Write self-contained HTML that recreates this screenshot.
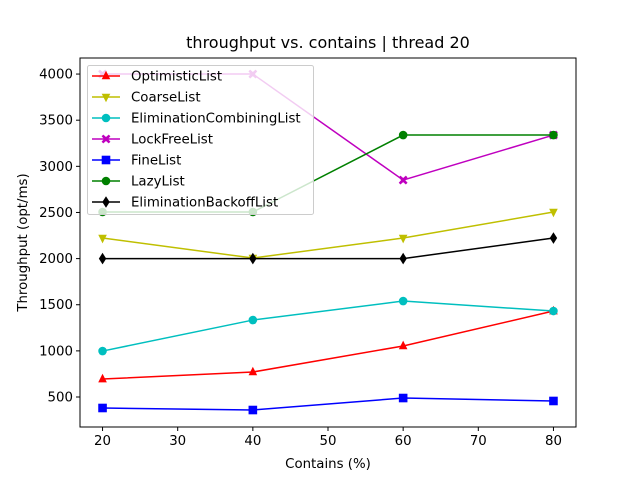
<!DOCTYPE html>
<html><head><meta charset="utf-8"><style>
html,body{margin:0;padding:0;background:#fff;}
svg{display:block;font-family:"DejaVu Sans","Liberation Sans",sans-serif;}
</style></head><body>
<svg id="chart" width="640" height="480" viewBox="0 0 640 480"></svg>
<script>
const categories = [20, 40, 60, 80];
const seriesNames = ["OptimisticList","CoarseList","EliminationCombiningList","LockFreeList","FineList","LazyList","EliminationBackoffList"];
const optimistic = [695, 771, 1053, 1432];
const coarse = [2223, 2006, 2223, 2505];
const elimCombining = [998, 1334, 1540, 1432];
const lockFree = [4000, 4000, 2851, 3339];
const fine = [381, 359, 489, 457];
const lazy = [2505, 2505, 3339, 3339];
const elimBackoff = [2000, 2000, 2000, 2223];
const xTicks = [20, 30, 40, 50, 60, 70, 80];
const yTicks = [500, 1000, 1500, 2000, 2500, 3000, 3500, 4000];

const seriesValues = [optimistic, coarse, elimCombining, lockFree, fine, lazy, elimBackoff];
const colors = ["#ff0000","#bfbf00","#00bfbf","#bf00bf","#0000ff","#008000","#000000"];
const markers = ["^","v","o","X","s","o","d"];

const L=80,R=576,T=58,B=427;
const xmin=17,xmax=83,ymin=175,ymax=4174;
const xs=v=>L+(v-xmin)/(xmax-xmin)*(R-L);
const ys=v=>B-(v-ymin)/(ymax-ymin)*(B-T);
const svg=document.getElementById('chart');
const NS="http://www.w3.org/2000/svg";
function mk(tag,attrs,parent){const e=document.createElementNS(NS,tag);for(const k in attrs)e.setAttribute(k,attrs[k]);(parent||svg).appendChild(e);return e;}

function marker(type,x,y,color,parent){
  let e;const r=4.3;
  if(type==="o") e=mk('circle',{cx:x,cy:y,r:r},parent);
  else if(type==="^") e=mk('polygon',{points:`${x},${y-r-1} ${x-r},${y+r-1} ${x+r},${y+r-1}`},parent);
  else if(type==="v") e=mk('polygon',{points:`${x},${y+r+1} ${x-r},${y-r+1} ${x+r},${y-r+1}`},parent);
  else if(type==="s") e=mk('rect',{x:x-r,y:y-r,width:2*r,height:2*r},parent);
  else if(type==="d") e=mk('polygon',{points:`${x},${y-5.8} ${x+3.7},${y} ${x},${y+5.8} ${x-3.7},${y}`},parent);
  else if(type==="X"){const a=1.7,b=4.4;e=mk('polygon',{points:`${x-b+a},${y-b} ${x},${y-a*1.2} ${x+b-a},${y-b} ${x+b},${y-b+a} ${x+a*1.2},${y} ${x+b},${y+b-a} ${x+b-a},${y+b} ${x},${y+a*1.2} ${x-b+a},${y+b} ${x-b},${y+b-a} ${x-a*1.2},${y} ${x-b},${y-b+a}`},parent);}
  e.setAttribute('fill',color);
  return e;
}

const title=mk('text',{x:328,y:48,'text-anchor':'middle','font-size':16});
title.textContent="throughput vs. contains | thread 20";



xTicks.forEach(t=>{
  const x=xs(t);
  mk('line',{x1:x,y1:B,x2:x,y2:B+4,stroke:'#000','stroke-width':1});
  const tx=mk('text',{x:x,y:B+18,'text-anchor':'middle','font-size':13.33});
  tx.textContent=t;
  
  
});
yTicks.forEach(t=>{
  const y=ys(t);
  mk('line',{x1:L-4,y1:y,x2:L,y2:y,stroke:'#000','stroke-width':1});
  const tx=mk('text',{x:L-7,y:y+4.5,'text-anchor':'end','font-size':13.33});
  tx.textContent=t;
  
  
});
const xl=mk('text',{x:328,y:468,'text-anchor':'middle','font-size':13.33});
xl.textContent="Contains (%)";


const yl=mk('text',{x:0,y:0,'text-anchor':'middle','font-size':13.33,transform:`translate(27,${(T+B)/2}) rotate(-90)`});
yl.textContent="Throughput (opt/ms)";



seriesValues.forEach((vals,i)=>{
  const g=mk('g',{});
  
  
  mk('polyline',{points:vals.map((v,j)=>xs(categories[j])+','+ys(v)).join(' '),fill:'none',stroke:colors[i],'stroke-width':1.5},g);
  vals.forEach((v,j)=>{
    const m=marker(markers[i],xs(categories[j]),ys(v),colors[i],g);
    
    
  });
});

const frame=mk('rect',{x:L,y:T,width:R-L,height:B-T,fill:'none',stroke:'#000','stroke-width':1});



const lg=mk('g',{});


mk('rect',{x:87.5,y:65.5,width:226,height:149,rx:2,fill:'#fff','fill-opacity':0.8,stroke:'#ccc','stroke-width':1},lg);
seriesNames.forEach((n,i)=>{
  const y=76+i*21;
  const e=mk('g',{},lg);
  
  
  mk('line',{x1:92,y1:y,x2:120,y2:y,stroke:colors[i],'stroke-width':1.5},e);
  marker(markers[i],106,y,colors[i],e);
  const t=mk('text',{x:131,y:y+4.5,'font-size':13.33},e);
  t.textContent=n;
});
</script>
</body></html>
